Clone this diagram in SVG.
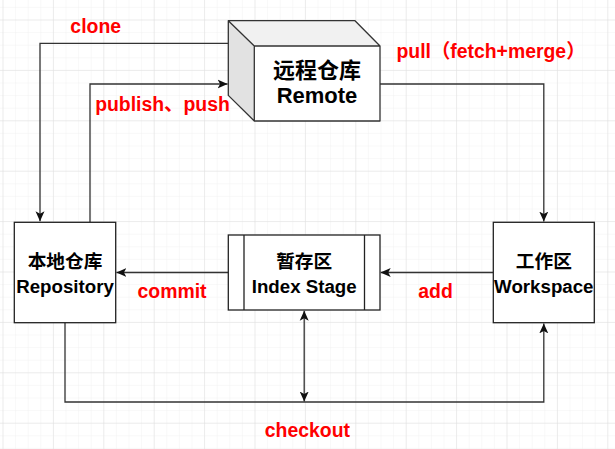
<svg xmlns="http://www.w3.org/2000/svg" width="615" height="449" viewBox="0 0 615 449">
<style>
.box{fill:#fff;stroke:#222;stroke-width:1.3}
.edge{fill:none;stroke:#333;stroke-width:1.3}
.t{font-family:"Liberation Sans","Noto Sans CJK SC",Arial,sans-serif;font-weight:bold;text-anchor:middle;fill:#000}
.lbl{font-family:"Liberation Sans","Noto Sans CJK SC",Arial,sans-serif;font-weight:bold;font-size:19.4px;fill:#ff0000;text-anchor:middle}
</style>
<defs>
<pattern id="minor" patternUnits="userSpaceOnUse" x="2.5" y="19.5" width="12.6" height="12.6">
<path d="M0 0H12.6M0 0V12.6" fill="none" stroke="#f1f1f1" stroke-width="1"/>
</pattern>
<pattern id="major" patternUnits="userSpaceOnUse" x="2.5" y="19.5" width="50.4" height="50.4">
<path d="M0 0H50.4M0 0V50.4" fill="none" stroke="#e0e0e0" stroke-width="1"/>
</pattern>
<marker id="arr" viewBox="0 0 10 10" refX="10" refY="5" markerWidth="10" markerHeight="10" markerUnits="userSpaceOnUse" orient="auto-start-reverse">
<path d="M0 0.5L10 5L0 9.5L2.5 5Z" fill="#111"/>
</marker>
</defs>
<rect width="615" height="449" fill="#fff"/>
<rect width="615" height="449" fill="url(#minor)"/>
<rect width="615" height="449" fill="url(#major)"/>

<g id="connectors">
<path id="clone" class="edge" d="M228.3 43.3H40V221.3" marker-end="url(#arr)"/>
<path id="publish" class="edge" d="M90 222.3V84H227.6" marker-end="url(#arr)"/>
<path id="pull" class="edge" d="M380 84H543.8V221.6" marker-end="url(#arr)"/>
<path id="add" class="edge" d="M493.3 272.5H380.7" marker-end="url(#arr)"/>
<path id="commit" class="edge" d="M228.3 272.5H116.4" marker-end="url(#arr)"/>
<path id="checkout" class="edge" d="M65 322.7V402H543.8V323.4" marker-end="url(#arr)"/>
<path id="stage-checkout" class="edge" d="M304.2 310.7V401.5" marker-start="url(#arr)" marker-end="url(#arr)"/>
</g>

<g id="remote">
<polygon points="228.3,20.7 355,20.7 380,46 254.3,46" fill="#f1f1f1"/>
<polygon points="228.3,20.7 254.3,46 254.3,121 228.3,95.4" fill="#e2e2e2"/>
<rect x="254.3" y="46" width="125.7" height="75" fill="#fff"/>
<path d="M228.3 20.7H355L380 46V121H254.3L228.3 95.4ZM228.3 20.7L254.3 46H380M254.3 46V121" fill="none" stroke="#333" stroke-width="1.3" stroke-linejoin="round"/>
<text class="t" x="317" y="78" font-size="22">远程仓库</text>
<text class="t" x="317" y="103.3" font-size="22">Remote</text>
</g>

<g id="repository">
<rect class="box" x="14.3" y="222.3" width="101.4" height="100.4"/>
<text class="t" x="65" y="268" font-size="18.7">本地仓库</text>
<text class="t" x="65" y="292.7" font-size="18.7">Repository</text>
</g>

<g id="stage">
<rect class="box" x="228.3" y="235" width="151.7" height="75"/>
<path d="M244 235V310M364.5 235V310" fill="none" stroke="#222" stroke-width="1.3"/>
<text class="t" x="304.2" y="268" font-size="18.7">暂存区</text>
<text class="t" x="304.2" y="292.7" font-size="18.7">Index Stage</text>
</g>

<g id="workspace">
<rect class="box" x="493.3" y="222.3" width="101" height="100.4"/>
<text class="t" x="543.8" y="268" font-size="18.7">工作区</text>
<text class="t" x="543.8" y="292.7" font-size="18.7">Workspace</text>
</g>

<g id="labels">
<text class="lbl" x="95.7" y="32.5">clone</text>
<text class="lbl" x="162.5" y="111">publish、push</text>
<text class="lbl" x="491" y="57.7">pull（fetch+merge）</text>
<text class="lbl" x="172" y="298">commit</text>
<text class="lbl" x="435.5" y="298">add</text>
<text class="lbl" x="307.4" y="437">checkout</text>
</g>
</svg>
